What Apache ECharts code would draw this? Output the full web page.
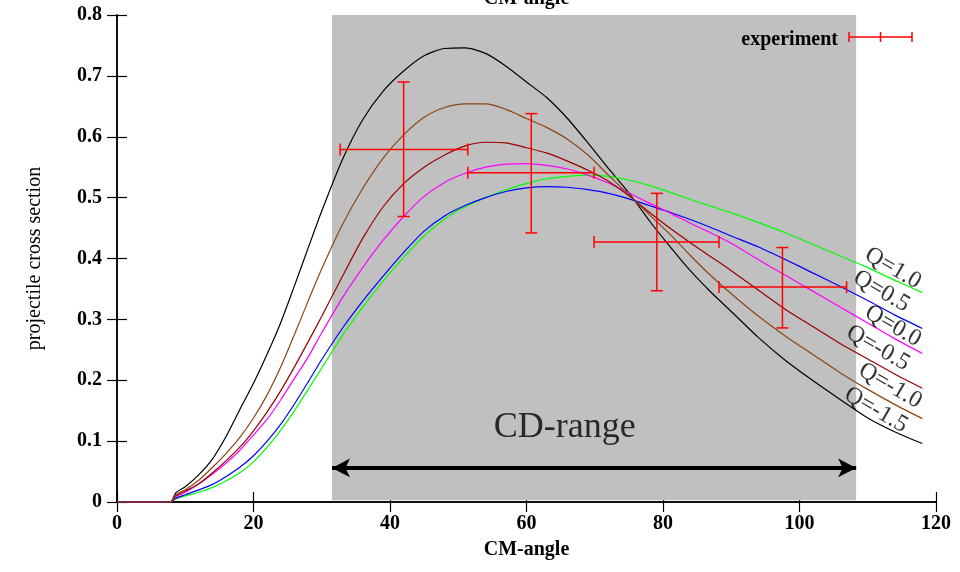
<!DOCTYPE html>
<html><head><meta charset="utf-8">
<script src="https://cdn.jsdelivr.net/npm/echarts@6/dist/echarts.min.js"></script>
<style>html,body{margin:0;padding:0;background:#fff}#c{width:960px;height:572px}</style>
</head><body><div id="c"></div>
<script>
const FONT = 'Liberation Serif';
const xGrid = [0,7.8,8.6,10,12,14,16,18,20,22,24,26,28,30,33,36,39,42,45,48,51,54,57,60,63,66,69,72,75,78,81,84,87,90,94,98,102,106,110,114,118];
const qBlack   = [0,0,0.015,0.025,0.045,0.071,0.108,0.152,0.195,0.243,0.295,0.355,0.417,0.478,0.562,0.628,0.675,0.708,0.733,0.745,0.746,0.737,0.716,0.69,0.664,0.63,0.59,0.548,0.508,0.462,0.42,0.38,0.345,0.313,0.27,0.232,0.199,0.168,0.138,0.115,0.096];
const qBrown   = [0,0,0.012,0.02,0.036,0.057,0.08,0.106,0.138,0.176,0.222,0.275,0.33,0.383,0.455,0.515,0.565,0.603,0.632,0.648,0.654,0.654,0.645,0.63,0.615,0.596,0.57,0.537,0.505,0.472,0.44,0.405,0.372,0.342,0.305,0.272,0.242,0.212,0.185,0.16,0.137];
const qDarkRed = [0,0,0.01,0.018,0.03,0.048,0.068,0.09,0.117,0.148,0.183,0.222,0.263,0.305,0.37,0.433,0.485,0.523,0.55,0.57,0.585,0.591,0.59,0.582,0.573,0.56,0.545,0.527,0.503,0.476,0.45,0.426,0.403,0.38,0.348,0.316,0.288,0.26,0.235,0.21,0.187];
const qMagenta = [0,0,0.008,0.016,0.03,0.046,0.064,0.085,0.11,0.136,0.168,0.203,0.238,0.278,0.335,0.385,0.43,0.469,0.502,0.525,0.54,0.55,0.555,0.556,0.553,0.547,0.537,0.524,0.508,0.491,0.475,0.458,0.442,0.425,0.398,0.372,0.346,0.32,0.294,0.268,0.244];
const qBlue    = [0,0,0.006,0.012,0.02,0.029,0.042,0.057,0.076,0.1,0.128,0.161,0.197,0.234,0.285,0.33,0.371,0.41,0.445,0.47,0.487,0.5,0.51,0.516,0.518,0.517,0.513,0.507,0.498,0.487,0.476,0.464,0.451,0.437,0.419,0.398,0.376,0.354,0.331,0.307,0.285];
const qGreen   = [0,0,0.005,0.01,0.016,0.024,0.035,0.048,0.066,0.09,0.118,0.15,0.185,0.22,0.273,0.32,0.363,0.402,0.437,0.465,0.485,0.5,0.513,0.523,0.531,0.535,0.537,0.535,0.529,0.52,0.509,0.497,0.486,0.475,0.459,0.442,0.423,0.404,0.385,0.364,0.344];

const curveNames = ['Q=-1.5','Q=1.0','Q=0.5','Q=0.0','Q=-0.5','Q=-1.0'];
const curveValues = [qBlack, qGreen, qBlue, qMagenta, qDarkRed, qBrown];
const curveColors = ['#000000','#00ff00','#0000ff','#ff00ff','#990000','#8b4513'];

const expX   = [42.0, 60.7, 79.1, 97.5];
const expY   = [0.579, 0.541, 0.427, 0.353];
const expXLo = [32.7, 51.4, 69.9, 88.2];
const expXHi = [51.4, 69.9, 88.2, 106.9];
const expYLo = [0.469, 0.442, 0.347, 0.286];
const expYHi = [0.69, 0.638, 0.507, 0.418];

const labelText = ['Q=1.0','Q=0.5','Q=0.0','Q=-0.5','Q=-1.0','Q=-1.5'];
const labelX = [113.7, 112.0, 113.7, 111.5, 113.3, 111.2];
const labelY = [0.384, 0.346, 0.289, 0.253, 0.191, 0.151];

const cdRange = [31.5, 108.3];
const cdArrowY = 0.056;
const cdText = 'CD-range';
const cdTextPos = [65.6, 0.122];

const chart = echarts.init(document.getElementById('c'), null, {renderer:'canvas'});

const curveSeries = curveValues.map((vals, i) => ({
  name: curveNames[i], type: 'line', data: xGrid.map((x, j) => [x, vals[j]]),
  showSymbol: false, smooth: 0.25, z: 2 + i * 0.01,
  lineStyle: {color: curveColors[i], width: 1.2}, silent: true
}));

const axisCommon = {
  axisLine: {show: true, lineStyle: {color: '#000', width: 1.5}},
  axisTick: {show: true, inside: true, length: 10, lineStyle: {color: '#000', width: 1.2}},
  splitLine: {show: false}
};

const option = {
  animation: false,
  backgroundColor: '#fff',
  grid: {left: 117, right: 24, top: 15, bottom: 70, containLabel: false, outerBoundsMode: 'none'},
  xAxis: [
    Object.assign({type: 'value', position: 'bottom', min: 0, max: 120, interval: 20,
      name: 'CM-angle', nameLocation: 'middle', nameGap: 38,
      nameTextStyle: {fontFamily: FONT, fontWeight: 'bold', fontSize: 20, color: '#000'},
      axisLabel: {fontFamily: FONT, fontWeight: 'bold', fontSize: 20, color: '#000', margin: 12}}, axisCommon),
    Object.assign({type: 'value', position: 'top', min: 0, max: 120, interval: 20,
      name: 'CM-angle', nameLocation: 'middle', nameGap: 6,
      nameTextStyle: {fontFamily: FONT, fontWeight: 'bold', fontSize: 20, color: '#000'},
      axisLabel: {show: false}}, axisCommon)
  ],
  yAxis: [
    Object.assign({type: 'value', position: 'left', min: 0, max: 0.8, interval: 0.1,
      name: 'projectile cross section', nameLocation: 'middle', nameGap: 72,
      nameTextStyle: {fontFamily: FONT, fontSize: 20, color: '#000'},
      axisLabel: {fontFamily: FONT, fontWeight: 'bold', fontSize: 20, color: '#000', margin: 15,
        formatter: v => v === 0 ? '0' : v.toFixed(1)}}, axisCommon),
    Object.assign({type: 'value', position: 'right', min: 0, max: 0.8, interval: 0.1,
      axisLabel: {show: false}}, axisCommon)
  ],
  series: [
    {
      type: 'line', data: [], z: -1, silent: true,
      markArea: {silent: true, itemStyle: {color: '#c0c0c0'},
        data: [[{coord: [cdRange[0], 0.003]}, {coord: [cdRange[1], 0.8]}]]},
      markLine: {silent: true, symbol: ['arrow', 'arrow'], symbolSize: [14, 18],
        lineStyle: {color: '#000', width: 4, type: 'solid'}, label: {show: false},
        data: [[{coord: [cdRange[0], cdArrowY]}, {coord: [cdRange[1], cdArrowY]}]]}
    },
    ...curveSeries,
    {
      type: 'custom', z: 5, silent: true,
      data: expX.map((x, i) => [x, expY[i], expXLo[i], expXHi[i], expYLo[i], expYHi[i]]),
      encode: {x: [0, 2, 3], y: [1, 4, 5]},
      renderItem: function (params, api) {
        const c = api.coord([api.value(0), api.value(1)]);
        const xl = api.coord([api.value(2), api.value(1)]);
        const xh = api.coord([api.value(3), api.value(1)]);
        const yl = api.coord([api.value(0), api.value(4)]);
        const yh = api.coord([api.value(0), api.value(5)]);
        const cap = 6;
        const st = {stroke: '#ff0000', lineWidth: 1.5};
        const L = (x1, y1, x2, y2) => ({type: 'line', shape: {x1, y1, x2, y2}, style: st});
        return {type: 'group', children: [
          L(xl[0], c[1], xh[0], c[1]),
          L(c[0], yl[1], c[0], yh[1]),
          L(xl[0], c[1] - cap, xl[0], c[1] + cap),
          L(xh[0], c[1] - cap, xh[0], c[1] + cap),
          L(c[0] - cap, yl[1], c[0] + cap, yl[1]),
          L(c[0] - cap, yh[1], c[0] + cap, yh[1])
        ]};
      }
    },
    {
      type: 'scatter', z: 6, silent: true, symbolSize: 0,
      data: labelText.map((t, i) => [labelX[i], labelY[i], t]),
      label: {show: true, position: 'inside', rotate: -30, formatter: p => p.data[2],
        fontFamily: FONT, fontSize: 24, color: '#000'}
    },
    {
      type: 'scatter', z: 6, silent: true, symbolSize: 0,
      data: [[cdTextPos[0], cdTextPos[1], cdText]],
      label: {show: true, position: 'inside', formatter: p => p.data[2],
        fontFamily: FONT, fontSize: 36, color: '#000'}
    }
  ],
  graphic: [
    {type: 'text', x: 838, y: 40, silent: true, z: 10, style: {text: 'experiment', fontFamily: FONT, fontWeight: 'bold', fontSize: 20,
      fill: '#000', align: 'right', verticalAlign: 'middle'}},
    {type: 'line', silent: true, z: 10, shape: {x1: 849, y1: 37, x2: 912, y2: 37}, style: {stroke: '#ff0000', lineWidth: 1.5}},
    {type: 'line', silent: true, z: 10, shape: {x1: 849, y1: 32, x2: 849, y2: 42}, style: {stroke: '#ff0000', lineWidth: 1.5}},
    {type: 'line', silent: true, z: 10, shape: {x1: 912, y1: 32, x2: 912, y2: 42}, style: {stroke: '#ff0000', lineWidth: 1.5}},
    {type: 'line', silent: true, z: 10, shape: {x1: 880.5, y1: 32, x2: 880.5, y2: 42}, style: {stroke: '#ff0000', lineWidth: 1.5}}
  ]
};
chart.setOption(option);
</script></body></html>
